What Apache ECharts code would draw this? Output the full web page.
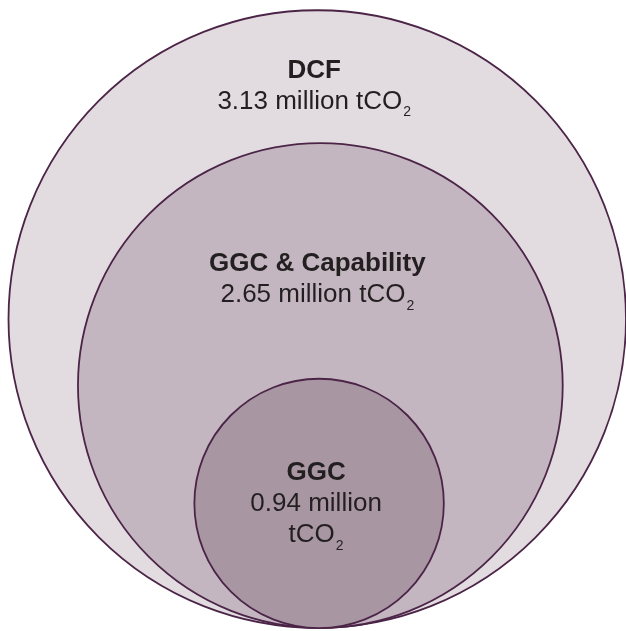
<!DOCTYPE html>
<html>
<head>
<meta charset="utf-8">
<script src="https://cdn.jsdelivr.net/npm/echarts@6/dist/echarts.min.js"></script>
<style>
  html, body { margin: 0; padding: 0; background: #ffffff; }
  #chart { width: 626px; height: 631px; }
</style>
</head>
<body>
<div id="chart"></div>
<script>
// Emission boundaries, from the widest to the narrowest
const scopes = ['DCF', 'GGC & Capability', 'GGC'];
const emissions = [3.13, 2.65, 0.94]; // million tCO2
const unitText = 'million tCO';
const unitSub = '2';

// Diagram layout in axis units: outer radius = 1, every circle rests on y = 0
const radius = [1, 0.785, 0.404];
const centerShift = [0, 0.01, 0.006];
const labelY = [1.753, 1.127, 0.402];
const wrapUnit = [false, false, true];
const fills = ['#e2dce0', '#c4b6c0', '#a897a3'];
const strokeColor = '#4b2447';
const textColor = '#231f20';
const family = '"Liberation Sans", Arial, Helvetica, sans-serif';

function labelText(i) {
  const value = emissions[i].toFixed(2);
  const unitParts = unitText.split(' ');
  const valueLine = wrapUnit[i]
    ? '{n|' + value + ' ' + unitParts[0] + '}\n{n|' + unitParts[1] + '}{s|' + unitSub + '}'
    : '{n|' + value + ' ' + unitText + '}{s|' + unitSub + '}';
  return '{b|' + scopes[i] + '}\n' + valueLine;
}

const chart = echarts.init(document.getElementById('chart'), null, { renderer: 'canvas' });

chart.setOption({
  animation: false,
  backgroundColor: '#ffffff',
  grid: { left: 8.5, top: 9.5, width: 619, height: 619 },
  xAxis: { type: 'value', min: -1, max: 1, show: false },
  yAxis: { type: 'value', min: 0, max: 2, show: false },
  series: [{
    type: 'custom',
    coordinateSystem: 'cartesian2d',
    clip: false,
    data: scopes.map((name, i) => ({ name: name, value: [centerShift[i], radius[i], emissions[i]] })),
    encode: { x: 0, y: 1 },
    renderItem: function (params, api) {
      const i = params.dataIndex;
      const center = api.coord([api.value(0), api.value(1)]);
      const rPx = api.size([radius[i], radius[i]])[0];
      const labelPos = api.coord([api.value(0), labelY[i]]);
      return {
        type: 'group',
        children: [
          {
            type: 'circle',
            shape: { cx: center[0], cy: center[1], r: rPx },
            style: { fill: fills[i], stroke: strokeColor, lineWidth: 1.8 }
          },
          {
            type: 'text',
            x: labelPos[0] - 3,
            y: labelPos[1],
            style: {
              text: labelText(i),
              align: 'center',
              verticalAlign: 'middle',
              fill: textColor,
              rich: {
                b: { fontFamily: family, fontWeight: 'bold', fontSize: 26, lineHeight: 31, fill: textColor },
                n: { fontFamily: family, fontSize: 26, lineHeight: 31, fill: textColor },
                s: { fontFamily: family, fontSize: 14, lineHeight: 31, padding: [22, 0, 0, 1], fill: textColor }
              }
            }
          }
        ]
      };
    }
  }]
});
</script>
</body>
</html>
